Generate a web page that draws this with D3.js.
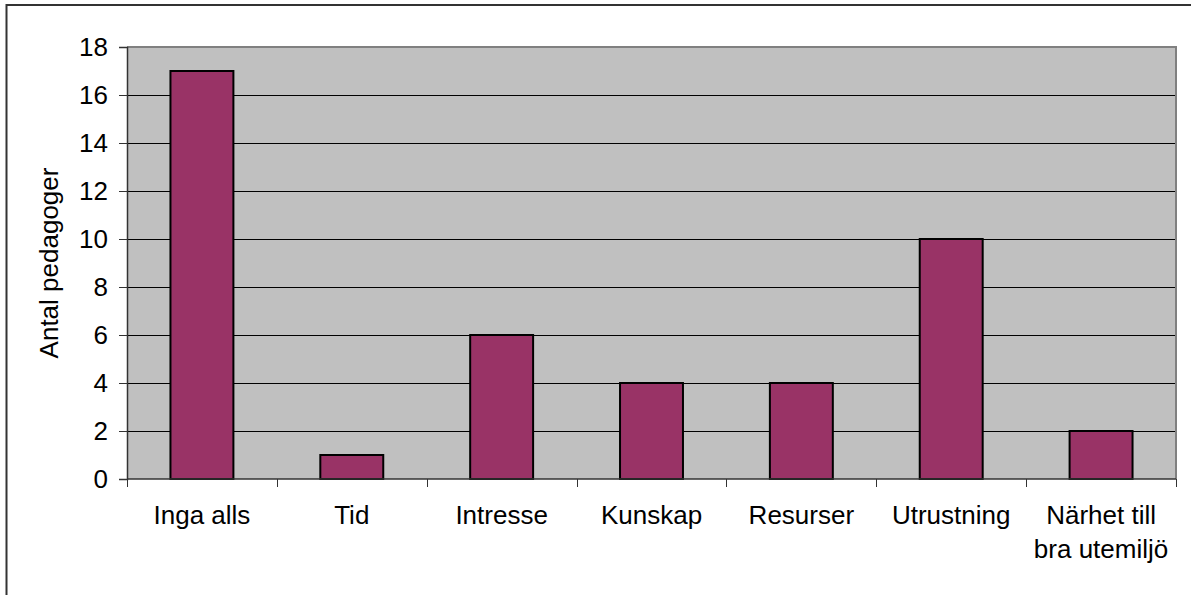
<!DOCTYPE html>
<html>
<head>
<meta charset="utf-8">
<title>Antal pedagoger</title>
<style>
	body { margin: 0; background: #fff; }
	svg { display: block; font-family: Arial, "Liberation Sans", sans-serif; }
</style>
</head>
<body>
<div id="chart"></div>
<script src="https://d3js.org/d3.v7.min.js"></script>
<script>
// data
var categories = ["Inga alls", "Tid", "Intresse", "Kunskap", "Resurser", "Utrustning", "Närhet till bra utemiljö"];
var labelLines = [["Inga alls"], ["Tid"], ["Intresse"], ["Kunskap"], ["Resurser"], ["Utrustning"], ["Närhet till", "bra utemiljö"]];
var values = [17, 1, 6, 4, 4, 10, 2];
var yTicks = [0, 2, 4, 6, 8, 10, 12, 14, 16, 18];

var W = 1191, H = 595;
var plot = {left: 127, top: 47, right: 1176, bottom: 479};
var fontSize = 26;

var svg = d3.select("#chart").append("svg")
	.attr("width", W)
	.attr("height", H);

// outer frame (only top and left visible)
svg.append("rect")
	.attr("x", 6.5).attr("y", 5)
	.attr("width", W + 20).attr("height", H + 20)
	.attr("fill", "#fff")
	.attr("stroke", "#333")
	.attr("stroke-width", 2);

var x = d3.scaleBand()
	.domain(categories)
	.range([plot.left, plot.right])
	.paddingInner(0.58)
	.paddingOuter(0.29);

var y = d3.scaleLinear()
	.domain([0, 18])
	.range([plot.bottom, plot.top]);

// plot background
svg.append("rect")
	.attr("x", plot.left).attr("y", plot.top)
	.attr("width", plot.right - plot.left)
	.attr("height", plot.bottom - plot.top)
	.attr("fill", "#c0c0c0");

// gridlines
svg.append("g").selectAll("line")
	.data(yTicks.filter(function(d) { return d > 0 && d < 18; }))
	.enter().append("line")
	.attr("x1", plot.left).attr("x2", plot.right)
	.attr("y1", function(d) { return Math.round(y(d)) + 0.5; })
	.attr("y2", function(d) { return Math.round(y(d)) + 0.5; })
	.attr("stroke", "#000")
	.attr("stroke-width", 1);

// top and right border of plot area
svg.append("path")
	.attr("d", "M" + plot.left + "," + plot.top + "H" + plot.right + "V" + plot.bottom)
	.attr("fill", "none")
	.attr("stroke", "#808080")
	.attr("stroke-width", 2);

// bars
svg.append("g").selectAll("rect")
	.data(values)
	.enter().append("rect")
	.attr("x", function(d, i) { return x(categories[i]); })
	.attr("y", function(d) { return y(d); })
	.attr("width", x.bandwidth())
	.attr("height", function(d) { return y(0) - y(d); })
	.attr("fill", "#993366")
	.attr("stroke", "#000")
	.attr("stroke-width", 2);

// y axis
var yAxis = svg.append("g")
	.attr("transform", "translate(" + plot.left + ",0)")
	.call(d3.axisLeft(y).tickValues(yTicks).tickSize(8).tickPadding(11));
yAxis.select(".domain").attr("stroke", "#333").attr("stroke-width", 1.5);
yAxis.selectAll(".tick line").attr("stroke", "#333");
yAxis.selectAll("text")
	.attr("font-size", fontSize)
	.attr("font-family", "Arial, 'Liberation Sans', sans-serif")
	.attr("fill", "#000");

// x axis with ticks at category boundaries
var bounds = d3.range(categories.length + 1).map(function(i) { return plot.left + i * (plot.right - plot.left) / categories.length; });
svg.append("line")
	.attr("x1", plot.left).attr("x2", plot.right)
	.attr("y1", plot.bottom).attr("y2", plot.bottom)
	.attr("stroke", "#333").attr("stroke-width", 1.5);
svg.append("g").selectAll("line")
	.data(bounds)
	.enter().append("line")
	.attr("x1", function(d) { return Math.round(d) + 0.5; })
	.attr("x2", function(d) { return Math.round(d) + 0.5; })
	.attr("y1", plot.bottom).attr("y2", plot.bottom + 8)
	.attr("stroke", "#333");

var xl = svg.append("g").selectAll("text")
	.data(labelLines)
	.enter().append("text")
	.attr("x", function(d, i) { return x(categories[i]) + x.bandwidth() / 2; })
	.attr("y", 524)
	.attr("text-anchor", "middle")
	.attr("font-size", fontSize)
	.attr("fill", "#000");
xl.selectAll("tspan")
	.data(function(d) { return d; })
	.enter().append("tspan")
	.attr("x", function() { return d3.select(this.parentNode).attr("x"); })
	.attr("dy", function(d, i) { return i === 0 ? 0 : 34; })
	.text(function(d) { return d; });

// y axis title
svg.append("text")
	.attr("transform", "translate(58," + ((plot.top + plot.bottom) / 2) + ") rotate(-90)")
	.attr("text-anchor", "middle")
	.attr("font-size", fontSize)
	.attr("fill", "#000")
	.text("Antal pedagoger");
</script>
</body>
</html>
